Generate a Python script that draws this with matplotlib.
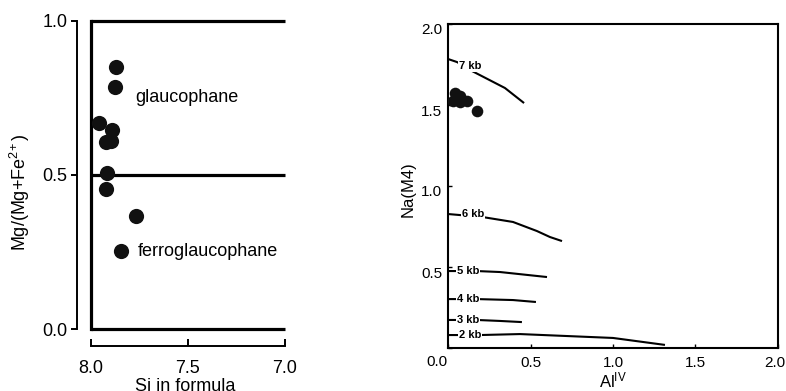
import matplotlib
matplotlib.use("Agg")
import matplotlib.pyplot as plt
import matplotlib.transforms as mtransforms

plt.rcParams['font.family'] = ['Liberation Sans', 'DejaVu Sans']
plt.rcParams['mathtext.default'] = 'regular'

# ---- Left panel data: Si vs Mg/(Mg+Fe2+) ----
si_vals = [7.871, 7.876, 7.959, 7.892, 7.923, 7.897, 7.918, 7.923, 7.768, 7.845]
mg_vals = [0.851, 0.786, 0.669, 0.646, 0.607, 0.610, 0.506, 0.455, 0.367, 0.253]
boundary_y = [0.0, 0.5, 1.0]
left_xticks = [8.0, 7.5, 7.0]
left_yticks = [0.0, 0.5, 1.0]

# ---- Right panel data: AlIV vs Na(M4) ----
al_vals = [0.042, 0.073, 0.115, 0.030, 0.073, 0.176]
na_vals = [1.574, 1.556, 1.525, 1.525, 1.519, 1.463]

iso_labels = ['7 kb', '6 kb', '5 kb', '4 kb', '3 kb', '2 kb']
iso_x = [
    [0.0, 0.055, 0.145, 0.345, 0.461],
    [0.0, 0.206, 0.394, 0.539, 0.618, 0.691],
    [0.0, 0.176, 0.315, 0.600],
    [0.0, 0.176, 0.394, 0.533],
    [0.0, 0.176, 0.315, 0.448],
    [0.0, 0.194, 0.436, 1.000, 1.315],
]
iso_y = [
    [1.784, 1.765, 1.710, 1.605, 1.512],
    [0.827, 0.809, 0.778, 0.722, 0.685, 0.660],
    [0.475, 0.475, 0.469, 0.438],
    [0.302, 0.302, 0.296, 0.284],
    [0.173, 0.173, 0.167, 0.160],
    [0.080, 0.080, 0.086, 0.062, 0.019],
]
iso_label_x = [0.067, 0.085, 0.055, 0.055, 0.055, 0.067]
iso_label_y = [1.74, 0.827, 0.475, 0.302, 0.173, 0.080]
right_ticks = [0.0, 0.5, 1.0, 1.5, 2.0]

W, H = 786, 391
fig = plt.figure(figsize=(W / 100, H / 100), dpi=100)

# ---------------- Left panel ----------------
axL = fig.add_axes([91 / W, (H - 329) / H, 194 / W, 308 / H])
axL.set_xlim(8.0, 7.0)
axL.set_ylim(0.0, 1.0)
for y in boundary_y:
    axL.plot([8.0, 7.0], [y, y], color='black', lw=2.3, clip_on=False,
             solid_capstyle='butt')
axL.plot([8.0, 8.0], [0.0, 1.0], color='black', lw=2.3, clip_on=False,
         solid_capstyle='projecting')
axL.scatter(si_vals, mg_vals, s=120, color='#111111', zorder=5, clip_on=False,
            linewidths=0)
axL.text(7.77, 0.75, 'glaucophane', fontsize=13, va='center', ha='left')
axL.text(7.76, 0.25, 'ferroglaucophane', fontsize=13, va='center', ha='left')

axL.spines['top'].set_visible(False)
axL.spines['right'].set_visible(False)
axL.spines['left'].set_position(('outward', 10))
axL.spines['bottom'].set_position(('outward', 12))
axL.spines['left'].set_linewidth(1.4)
axL.spines['bottom'].set_linewidth(1.4)
axL.set_xticks(left_xticks)
axL.set_xticklabels(['8.0', '7.5', '7.0'])
axL.set_yticks(left_yticks)
axL.set_yticklabels(['0.0', '0.5', '1.0'])
axL.tick_params(axis='x', direction='in', length=5, width=1.4, pad=10,
                labelsize=13)
axL.tick_params(axis='y', direction='out', length=4, width=1.4, pad=3,
                labelsize=13)
axL.set_xlabel('Si in formula', fontsize=13)
axL.xaxis.set_label_coords(0.485, -0.158)
axL.set_ylabel(r'Mg/(Mg+Fe$^{2\!+}$)', fontsize=13, va='center')
axL.yaxis.set_label_coords(-0.366, 0.445)

# ---------------- Right panel ----------------
axR = fig.add_axes([448 / W, (H - 348) / H, 330 / W, 324 / H])
axR.set_xlim(0.0, 2.0)
axR.set_ylim(0.0, 2.0)
for xs, ys, lab, lx, ly in zip(iso_x, iso_y, iso_labels, iso_label_x, iso_label_y):
    axR.plot(xs, ys, color='black', lw=1.5, solid_capstyle='butt')
    axR.text(lx, ly, lab, fontsize=8, fontweight='bold', ha='left', va='center',
             bbox=dict(facecolor='white', edgecolor='none', pad=0.6), zorder=4)
axR.scatter(al_vals, na_vals, s=70, color='#111111', zorder=5, linewidths=0)

for sp in axR.spines.values():
    sp.set_linewidth(1.5)
axR.set_xticks(right_ticks)
axR.set_xticklabels(['', '0.5', '1.0', '1.5', '2.0'])
axR.set_yticks(right_ticks)
axR.set_yticklabels(['', '0.5', '1.0', '1.5', '2.0'])
axR.tick_params(axis='both', direction='in', length=3, width=1, labelsize=11)
axR.tick_params(axis='x', pad=6)
axR.tick_params(axis='y', pad=4)
# labels in the scan sit a little below their ticks
down = mtransforms.ScaledTranslation(0, -5 / 100, fig.dpi_scale_trans)
for lbl in axR.get_yticklabels():
    lbl.set_transform(lbl.get_transform() + down)
xl = axR.get_xticklabels()
xl[-1].set_transform(xl[-1].get_transform() +
                     mtransforms.ScaledTranslation(-3 / 100, 0, fig.dpi_scale_trans))
axR.annotate('0.0', xy=(0, 0), xycoords='axes fraction', xytext=(-8, -10),
             textcoords='offset points', ha='center', va='center', fontsize=11)
axR.set_xlabel(r'Al$^{IV}$', fontsize=12, va='center')
axR.xaxis.set_label_coords(0.5, -0.1)
axR.set_ylabel('Na(M4)', fontsize=12, va='center')
axR.yaxis.set_label_coords(-0.121, 0.49)

fig.savefig('out.png', dpi=100)
